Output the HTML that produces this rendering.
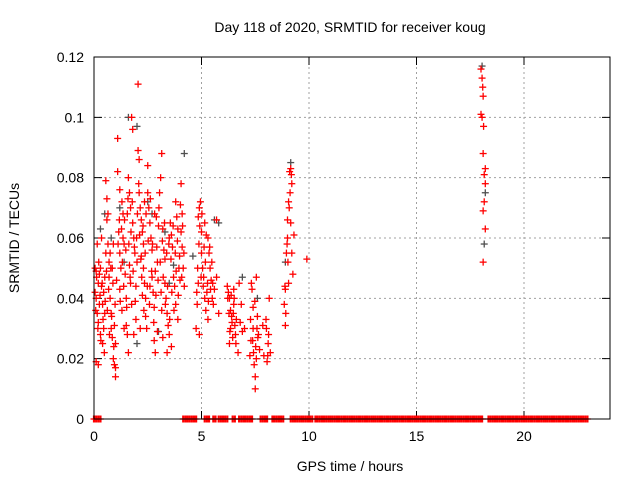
<!DOCTYPE html>
<html><head><meta charset="utf-8"><style>
html,body{margin:0;padding:0;background:#fff}
svg{display:block;font-family:"Liberation Sans",sans-serif}
</style></head><body>
<svg id="chart" width="640" height="480" viewBox="0 0 640 480">
<rect width="640" height="480" fill="#fff"/>
<g id="grid"></g>
<g id="axes"></g>
<g id="pts"></g>
<rect x="94" y="57" width="516" height="362" fill="none" stroke="#000" stroke-width="1"/>
<text x="350" y="32" text-anchor="middle" font-size="14">Day 118 of 2020, SRMTID for receiver koug</text>
<text x="350" y="471" text-anchor="middle" font-size="14">GPS time / hours</text>
<text transform="translate(19,238) rotate(-90)" text-anchor="middle" font-size="14">SRMTID / TECUs</text>
</svg>
<script>
const xTicks=[0,5,10,15,20];
const yTicks=[0,0.02,0.04,0.06,0.08,0.1,0.12];
const yTickLabels=["0","0.02","0.04","0.06","0.08","0.1","0.12"];
const redH=[0.05,0.1,0.15,0.2,0.1,0.15,0.2,0.25,0.1,0.2,0.3,0.35,0.3,0.4,0.45,0.5,0.5,0.45,0.55,0.55,0.6,0.6,0.65,0.7,0.7,0.75,0.8,0.8,0.85,0.9,0.95,0.95,1.0,1.0,1.0,0.85,0.9,0.35,0.25,0.4,0.65,0.75,
1.1,1.1,1.15,1.2,1.25,1.2,1.3,1.35,1.4,1.45,1.5,1.5,1.55,1.6,1.6,1.65,1.7,1.75,1.8,1.8,1.85,1.9,1.95,1.95,2.0,1.3,1.4,1.7,1.2,1.35,1.55,1.65,1.75,1.85,
2.05,2.05,2.1,2.1,2.15,2.2,2.25,2.3,2.3,2.35,2.4,2.4,2.45,2.5,2.5,2.55,2.6,2.65,2.7,2.7,2.75,2.8,2.8,2.85,2.9,2.95,2.95,3.0,2.2,2.6,2.35,2.15,2.25,2.85,
3.05,3.1,3.15,3.2,3.25,3.3,3.3,3.35,3.4,3.45,3.5,3.5,3.55,3.6,3.65,3.7,3.75,3.8,3.8,3.85,3.9,3.95,4.0,4.05,4.05,4.1,4.15,4.2,3.2,3.4,3.6,3.9,4.1,3.15,
4.75,4.8,4.85,4.85,4.9,4.95,5.0,5.0,5.05,5.1,5.15,5.2,5.25,5.3,5.35,5.4,5.45,5.5,5.55,5.6,5.7,5.7,5.8,4.9,5.15,5.3,
6.2,6.25,6.3,6.35,6.35,6.4,6.45,6.5,6.55,6.6,6.7,6.75,6.8,6.9,7.0,6.3,6.5,6.85,
7.25,7.3,7.35,7.4,7.4,7.45,7.5,7.5,7.55,7.6,7.65,7.7,7.85,7.9,8.0,8.05,8.1,8.15,8.2,7.55,
8.85,8.9,8.9,8.95,9.0,9.0,9.05,9.1,9.15,9.2,9.2,9.25,9.3,9.05,9.9,9.15,
18.0,18.05,18.1,18.05,18.1,18.15,18.2,18.15,18.1,18.2,18.1,18.0,18.2,
0.05,0.08,0.12,0.18,0.22,0.28,0.32,0.38,0.42,0.48,0.52,0.58,0.62,0.68,0.72,0.78,0.82,0.88,0.92,0.98,
1.05,1.12,1.18,1.22,1.28,1.32,1.38,1.42,1.48,1.52,1.58,1.62,1.68,1.72,1.78,1.82,1.88,1.92,1.98,
2.02,2.08,2.12,2.18,2.22,2.28,2.32,2.38,2.42,2.48,2.52,2.58,2.62,2.68,2.72,2.78,2.82,2.88,2.92,2.98,
3.02,3.08,3.12,3.18,3.22,3.28,3.32,3.38,3.42,3.48,3.52,3.58,3.62,3.68,3.72,3.78,3.82,3.88,3.92,3.98,4.02,4.08,4.12,4.18,
4.78,4.82,4.88,4.92,4.98,5.02,5.08,5.12,5.18,5.22,5.28,5.32,5.38,5.42,5.48,5.52,
6.22,6.28,6.32,6.38,6.42,6.48,6.52,6.58,6.62,7.28,7.32,7.38,7.42,7.48,7.52,7.58,7.62,8.02,8.08,8.12,
8.88,8.92,8.98,9.02,9.08,9.12,9.18,18.08,18.12];
const redV=[0.05,0.049,0.058,0.045,0.04,0.035,0.032,0.038,0.019,0.018,0.05,0.044,0.028,0.025,0.03,0.035,0.047,0.042,0.055,0.079,0.073,0.066,0.068,0.052,0.047,0.04,0.035,0.03,0.027,0.02,0.018,0.031,0.014,0.017,0.025,0.05,0.058,0.06,0.048,0.038,0.058,0.055,
0.093,0.082,0.062,0.055,0.05,0.043,0.072,0.068,0.058,0.048,0.04,0.031,0.028,0.022,0.08,0.075,0.07,0.1,0.096,0.065,0.06,0.055,0.044,0.033,0.052,0.036,0.03,0.045,0.076,0.06,0.068,0.051,0.038,0.028,
0.111,0.089,0.086,0.075,0.07,0.066,0.062,0.058,0.05,0.045,0.04,0.034,0.03,0.084,0.075,0.07,0.065,0.06,0.056,0.047,0.042,0.037,0.026,0.022,0.067,0.052,0.029,0.064,0.054,0.044,0.072,0.03,0.041,0.049,
0.075,0.08,0.088,0.063,0.056,0.053,0.045,0.04,0.035,0.031,0.028,0.06,0.065,0.061,0.057,0.047,0.044,0.038,0.072,0.067,0.063,0.05,0.046,0.078,0.062,0.057,0.05,0.044,0.027,0.022,0.024,0.033,0.068,0.036,
0.03,0.038,0.045,0.067,0.07,0.072,0.062,0.055,0.05,0.047,0.04,0.036,0.042,0.06,0.055,0.05,0.046,0.04,0.038,0.043,0.066,0.047,0.035,0.028,0.065,0.033,
0.044,0.042,0.04,0.036,0.03,0.034,0.027,0.038,0.031,0.025,0.022,0.045,0.032,0.029,0.03,0.025,0.043,0.038,
0.021,0.026,0.043,0.037,0.03,0.018,0.014,0.01,0.047,0.034,0.028,0.023,0.031,0.021,0.033,0.019,0.025,0.04,0.022,0.02,
0.038,0.043,0.031,0.055,0.06,0.066,0.072,0.082,0.083,0.078,0.055,0.048,0.061,0.045,0.053,0.065,
0.116,0.113,0.107,0.1,0.088,0.081,0.078,0.072,0.069,0.063,0.052,0.101,0.083,
0.042,0.036,0.047,0.03,0.052,0.041,0.026,0.045,0.033,0.022,0.039,0.049,0.036,0.043,0.028,0.05,0.034,0.045,0.024,0.038,
0.046,0.058,0.066,0.039,0.063,0.052,0.044,0.066,0.056,0.037,0.073,0.058,0.047,0.062,0.072,0.049,0.057,0.039,0.06,
0.068,0.078,0.061,0.053,0.047,0.064,0.036,0.055,0.068,0.044,0.059,0.038,0.073,0.049,0.058,0.032,0.068,0.041,0.057,0.046,
0.07,0.052,0.042,0.059,0.047,0.065,0.038,0.055,0.044,0.058,0.033,0.053,0.042,0.064,0.036,0.055,0.049,0.059,0.041,0.054,0.071,0.047,0.064,0.055,
0.042,0.05,0.058,0.064,0.047,0.068,0.044,0.057,0.052,0.061,0.045,0.039,0.057,0.043,0.052,0.045,
0.04,0.035,0.029,0.041,0.032,0.035,0.04,0.028,0.033,0.033,0.045,0.026,0.022,0.039,0.024,0.03,0.027,0.03,0.021,0.028,
0.044,0.035,0.058,0.052,0.07,0.075,0.081,0.11,0.097];
const grayH=[0.5,0.8,1.2,1.6,2.0,2.0,2.5,3.0,3.3,3.5,4.2,5.6,5.8,6.9,7.6,8.9,9.15,18.05,18.15,18.2,1.4,2.7,3.7,4.6,0.3];
const grayV=[0.068,0.06,0.07,0.1,0.097,0.025,0.072,0.029,0.062,0.045,0.088,0.066,0.065,0.047,0.04,0.052,0.085,0.117,0.058,0.075,0.052,0.068,0.051,0.054,0.063];
const zeroH=[0,0.1,0.2,0.3,4.15,4.25,4.35,4.45,4.55,4.65,4.75,5.15,5.25,5.35,5.55,5.65,5.8,5.9,6.0,6.1,6.2,6.45,6.55,6.75,6.85,6.95,7.05,7.15,7.25,7.35,7.75,7.85,7.95,8.05,8.3,8.4,8.5,8.6,8.7,8.8,9.15,9.25,9.35,9.45,9.55,9.65,9.75,9.85,9.95,10.05,10.15,10.3,10.4,10.5,10.6,10.7,10.8,10.9,11.0,11.1,11.2,11.3,11.4,11.5,11.6,11.7,11.8,11.9,12.0,12.1,12.2,12.3,12.4,12.5,12.6,12.7,12.8,12.9,13.0,13.1,13.2,13.3,13.4,13.5,13.6,13.7,13.8,13.9,14.0,14.1,14.2,14.3,14.4,14.5,14.6,14.7,14.8,14.9,15.0,15.1,15.2,15.3,15.4,15.5,15.6,15.7,15.8,15.9,16.0,16.1,16.2,16.3,16.4,16.5,16.6,16.7,16.8,16.9,17.0,17.1,17.2,17.3,17.4,17.5,17.6,17.7,17.8,17.9,18.0,18.05,18.35,18.45,18.55,18.65,18.75,18.85,18.95,19.05,19.15,19.25,19.35,19.45,19.5,19.6,19.7,19.8,19.9,20.0,20.1,20.2,20.3,20.4,20.5,20.6,20.7,20.8,20.9,21.0,21.1,21.2,21.3,21.4,21.5,21.6,21.7,21.8,21.85,21.95,22.05,22.15,22.25,22.35,22.45,22.55,22.65,22.75,22.85,22.95];

const NS="http://www.w3.org/2000/svg";
const X0=94,X1=610,Y0=419,Y1=57;
function xs(h){return X0+(h/24)*(X1-X0);}
function ys(v){return Y0-(v/0.12)*(Y0-Y1);}
function mk(tag,attrs,parent){const e=document.createElementNS(NS,tag);for(const k in attrs)e.setAttribute(k,attrs[k]);parent.appendChild(e);return e;}
const grid=document.getElementById('grid'),axes=document.getElementById('axes'),pts=document.getElementById('pts');
yTicks.forEach((t,i)=>{
  const y=ys(t);
  if(i>0&&i<yTicks.length-1){const g=mk('line',{x1:X0,x2:X1,y1:y,y2:y,stroke:'#a0a0a0','stroke-dasharray':'2,3'},grid);
  
  }
  const tk=mk('path',{d:`M${X0},${y}h8M${X1},${y}h-8`,stroke:'#000'},axes);
  
  
  const tx=mk('text',{x:X0-10,y:y+5,'text-anchor':'end','font-size':'14'},axes);
  tx.textContent=yTickLabels[i];
  
  
});
xTicks.forEach(t=>{
  const x=xs(t);
  if(t>0){const g=mk('line',{x1:x,x2:x,y1:Y0,y2:Y1,stroke:'#a0a0a0','stroke-dasharray':'2,3'},grid);
  
  }
  const tk=mk('path',{d:`M${x},${Y0}v-8M${x},${Y1}v8`,stroke:'#000'},axes);
  
  
  const tx=mk('text',{x:x,y:Y0+22,'text-anchor':'middle','font-size':'14'},axes);
  tx.textContent=String(t);
  
  
});
function cross(h,v,col,name,vw){
  const x=xs(h),y=ys(v);
  const p=mk('path',{d:`M${x-3.5},${y}h7`,stroke:col,'stroke-width':'1.3'},pts);
  
  
  const q=mk('path',{d:`M${x},${y-3.5}v7`,stroke:col,'stroke-width':vw},pts);
  
  
}
grayH.forEach((h,i)=>cross(h,grayV[i],'#505050','gray-point','1.3'));
redH.forEach((h,i)=>cross(h,redV[i],'#ff0000','red-point','1.3'));
zeroH.forEach(h=>cross(h,0,'#ff0000','zero-point','2.2'));
</script>
</body></html>
